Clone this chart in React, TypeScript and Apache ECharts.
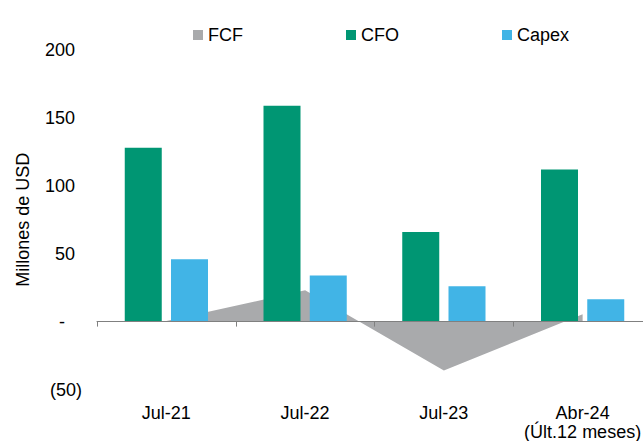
import React, { useEffect, useRef } from "react";
import * as echarts from "echarts";

const categories = ["Jul-21", "Jul-22", "Jul-23", "Abr-24\n(Últ.12 meses)"];
const fcfValues = [0.4, 23, -36, 5.5];
const cfoValues = [128, 159, 66, 112];
const capexValues = [46, 34, 26, 16.5];
const yTicks = { min: -50, max: 200, interval: 50 };

const FONT = '"Liberation Sans", Arial, Helvetica, sans-serif';
const TXT = "#000000";

export default function App() {
  const ref = useRef<HTMLDivElement>(null);
  useEffect(() => {
    if (!ref.current) return;
    const chart = echarts.init(ref.current, undefined, { renderer: "svg" });
    const rs = (pad: number) => ({
      fontSize: 18,
      fontFamily: FONT,
      color: TXT,
      padding: [0, pad, 0, 0],
    });
    chart.setOption({
      animation: false,
      backgroundColor: "#ffffff",
      textStyle: { fontFamily: FONT },
      legend: {
        data: ["FCF", "CFO", "Capex"],
        left: 188,
        top: 21,
        icon: "rect",
        itemWidth: 10,
        itemHeight: 10,
        itemGap: 103,
        textStyle: { fontSize: 18, fontFamily: FONT, color: TXT },
      },
      grid: {
        left: 97,
        right: -9,
        top: 50,
        bottom: 51.5,
        containLabel: false,
        outerBoundsMode: "none",
      },
      xAxis: [
        {
          type: "category",
          data: categories,
          z: 10,
          axisLine: { onZero: true, lineStyle: { color: "#808080", width: 1 } },
          axisTick: { show: true, interval: 0, length: 5, lineStyle: { color: "#808080" } },
          axisLabel: { show: false },
          splitLine: { show: false },
        },
        {
          type: "category",
          data: categories,
          position: "bottom",
          axisLine: { show: false, onZero: false },
          axisTick: { show: false },
          axisLabel: {
            interval: 0,
            margin: 14,
            fontSize: 18,
            lineHeight: 19,
            fontFamily: FONT,
            color: TXT,
          },
          splitLine: { show: false },
        },
      ],
      yAxis: {
        type: "value",
        min: yTicks.min,
        max: yTicks.max,
        interval: yTicks.interval,
        name: "Millones de USD",
        nameLocation: "middle",
        nameGap: 65,
        nameTextStyle: { fontSize: 18, fontFamily: FONT, color: TXT },
        axisLine: { show: false },
        axisTick: { show: false },
        splitLine: { show: false },
        axisLabel: {
          margin: 15,
          formatter: (v: number) =>
            v < 0 ? `{n|(${-v})}` : v === 0 ? `{z|-}` : `{p|${v}}`,
          rich: { n: rs(0), z: rs(17), p: rs(7) },
        },
      },
      series: [
        {
          name: "FCF",
          type: "line",
          xAxisIndex: 0,
          data: fcfValues,
          symbol: "none",
          lineStyle: { width: 0, color: "#A9AAAC" },
          itemStyle: { color: "#A9AAAC" },
          areaStyle: { color: "#A9AAAC", opacity: 1 },
          z: 1,
        },
        {
          name: "CFO",
          type: "bar",
          xAxisIndex: 0,
          data: cfoValues,
          barWidth: 37,
          barGap: "25%",
          itemStyle: { color: "#009673" },
          z: 3,
        },
        {
          name: "Capex",
          type: "bar",
          xAxisIndex: 0,
          data: capexValues,
          barWidth: 37,
          barGap: "25%",
          itemStyle: { color: "#41B4E6" },
          z: 3,
        },
      ],
    });
    return () => chart.dispose();
  }, []);
  return (
    <div
      ref={ref}
      style={{ position: "absolute", left: 0, top: 0, width: 643, height: 441 }}
    />
  );
}
